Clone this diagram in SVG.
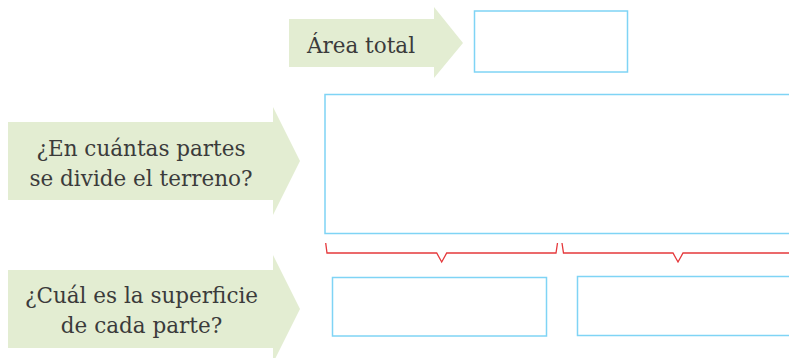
<svg xmlns="http://www.w3.org/2000/svg" width="789" height="358" viewBox="0 0 789 358">
<style>
.arrow{fill:#e3edd2}
.lbl{font-family:"DejaVu Serif","Liberation Serif",serif;font-size:21.5px;fill:#3b3b3b;text-anchor:middle}
.box{fill:#fff;stroke:#7fd4f5;stroke-width:1.5}
.brace{fill:none;stroke:#e5383b;stroke-width:1.3;stroke-linejoin:miter}
</style>
<rect width="789" height="358" fill="#fff"/>
<g id="node-area-total">
<polygon class="arrow" points="289,19 434,19 434,7 463,43 434,78 434,67 289,67"/>
<text class="lbl" x="361" y="53">Área total</text>
</g>
<g id="box-area-total"><rect class="box" x="474.5" y="11" width="153" height="61"/></g>
<g id="node-partes">
<polygon class="arrow" points="8,122 273,122 273,107 300,161 273,215 273,200 8,200"/>
<text class="lbl" x="141" y="156">¿En cuántas partes</text>
<text class="lbl" x="141" y="186">se divide el terreno?</text>
</g>
<g id="box-partes"><rect class="box" x="325" y="94.5" width="480" height="139"/></g>
<g id="node-superficie">
<polygon class="arrow" points="8,270 273,270 273,255 300,309 273,363 273,348 8,348"/>
<text class="lbl" x="141.5" y="303">¿Cuál es la superficie</text>
<text class="lbl" x="141.5" y="333">de cada parte?</text>
</g>
<g id="box-parte-1"><rect class="box" x="332.5" y="277.5" width="214" height="58.5"/></g>
<g id="box-parte-2"><rect class="box" x="577.5" y="276.5" width="230" height="59"/></g>
<g id="connectors">
<path class="brace" d="M325.7,243 L327,253 L436.7,253 L441.7,262 L446.7,253 L556,253 L557.5,243"/>
<path class="brace" d="M562,243 L563.5,253 L673,253 L678,262 L683,253 L800,253"/>
</g>
</svg>
